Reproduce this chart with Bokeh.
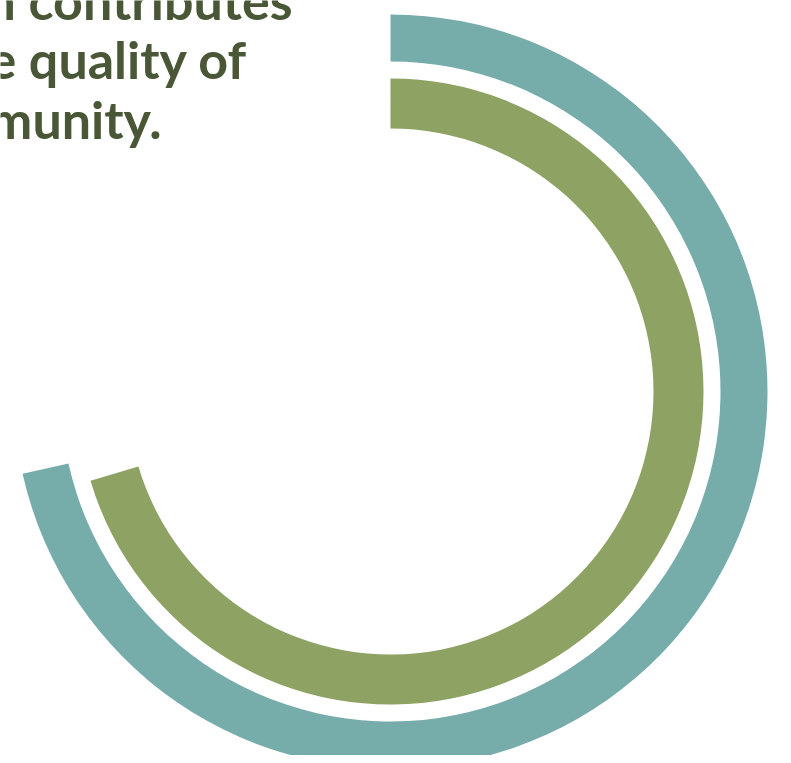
import math
from bokeh.plotting import figure
from bokeh.models import Range1d, ColumnDataSource
from bokeh.core.properties import value
from bokeh.embed import file_html
from bokeh.resources import INLINE

# ---- data ----
series = ["Outer ring", "Inner ring"]
percent = [71.5, 70.4]
colors = ["#76ACAA", "#8EA264"]
inner_r = [330, 263]
outer_r = [377, 313]

title_lines = ["m contributes", "he quality of", "munity."]
title_right = [292, 247, 161]
title_base = [16, 75, 135]
BASELINE_FIX = 17

W, H = 783, 755
PAGE_H = 763
cx, cy = 390, PAGE_H - 391

p = figure(width=W, height=H, output_backend="svg", toolbar_location=None,
           x_range=Range1d(0, W), y_range=Range1d(PAGE_H - H, PAGE_H),
           min_border=0, x_axis_location=None, y_axis_location=None)
p.grid.visible = False
p.outline_line_color = None
p.background_fill_color = "white"
p.border_fill_color = "white"

start = [math.pi / 2] * len(percent)
end = [math.pi / 2 - v / 100 * 2 * math.pi for v in percent]
src = ColumnDataSource(dict(x=[cx] * len(percent), y=[cy] * len(percent),
                            ir=inner_r, orr=outer_r, s=start, e=end, c=colors,
                            name=series, v=percent))
p.annular_wedge(x="x", y="y", inner_radius="ir", outer_radius="orr",
                start_angle="s", end_angle="e", direction="clock",
                fill_color="c", line_color=None, source=src)

tsrc = ColumnDataSource(dict(x=title_right,
                             y=[PAGE_H - b + BASELINE_FIX for b in title_base],
                             t=title_lines))
p.text(x="x", y="y", text="t", source=tsrc, text_align="right",
       text_baseline="alphabetic", text_font=value("Lato"),
       text_font_style="bold", text_font_size="52px", text_color="#4A5736")

open("out.html", "w").write(file_html(p, INLINE))
